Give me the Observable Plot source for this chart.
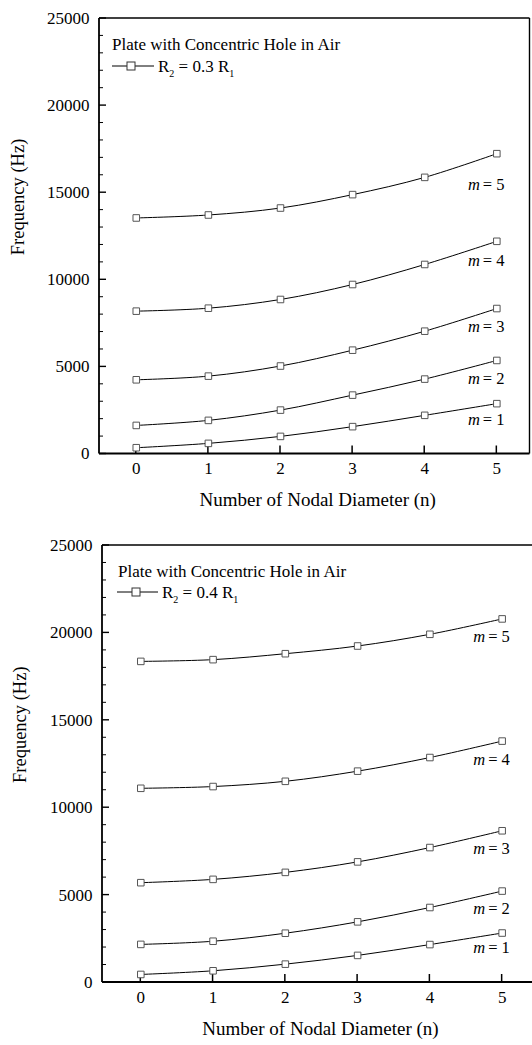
<!DOCTYPE html>
<html>
<head>
<meta charset="utf-8">
<script src="https://cdn.jsdelivr.net/npm/d3@7"></script>
<script src="https://cdn.jsdelivr.net/npm/@observablehq/plot@0.6"></script>
<style>
  html, body { margin: 0; padding: 0; background: #fff; }
  #charts > div { display: block; line-height: 0; }
  svg { display: block; }
</style>
</head>
<body>
<div id="charts"></div>
<script>
// ---------- data ----------
const nodalDiameters = [0, 1, 2, 3, 4, 5];
const modes = [1, 2, 3, 4, 5];
const yMajorTicks = [0, 5000, 10000, 15000, 20000, 25000];
const yMinorTicks = d3.range(0, 25001, 1000).filter(v => v % 5000 !== 0);

const panelTitle = "Plate with Concentric Hole in Air";
const xTitleMain = "Number of Nodal Diameter (";
const xTitleVar = "n";
const yTitle = "Frequency (Hz)";

// Panel A: R2 = 0.3 R1
const ratioA = "0.3";
const freqA_m1 = [360, 610, 1010, 1570, 2220, 2890];
const freqA_m2 = [1640, 1930, 2520, 3380, 4300, 5370];
const freqA_m3 = [4260, 4470, 5050, 5960, 7050, 8350];
const freqA_m4 = [8200, 8370, 8870, 9730, 10880, 12210];
const freqA_m5 = [13550, 13720, 14120, 14890, 15880, 17240];
const labelYA = [1990, 4320, 7280, 11120, 15480];

// Panel B: R2 = 0.4 R1
const ratioB = "0.4";
const freqB_m1 = [460, 670, 1050, 1550, 2170, 2830];
const freqB_m2 = [2180, 2360, 2820, 3470, 4290, 5230];
const freqB_m3 = [5710, 5900, 6300, 6900, 7720, 8680];
const freqB_m4 = [11110, 11210, 11510, 12090, 12870, 13810];
const freqB_m5 = [18370, 18470, 18810, 19250, 19920, 20800];
const labelYB = [1970, 4240, 7680, 12760, 19790];

function rows(series) {
  return series.flatMap((vals, k) => vals.map((f, i) => ({ m: modes[k], n: nodalDiameters[i], f })));
}

const FONT = "'Liberation Serif', 'Times New Roman', Times, serif";
const NS = "http://www.w3.org/2000/svg";

function legendMark(ratio, cfg) {
  return (index, scales, values, dims) => {
    const g = d3.create("svg:g").attr("font-family", FONT).attr("fill", "black").attr("text-anchor", "start");
    const L = dims.marginLeft, T = dims.marginTop;
    g.append("text")
      .attr("x", L + cfg.textX).attr("y", T + cfg.row1).attr("dy", "0.33em")
      .attr("font-size", 17).text(panelTitle);
    const yy = T + cfg.row2;
    g.append("line").attr("x1", L + cfg.lineX1).attr("x2", L + cfg.lineX2)
      .attr("y1", yy).attr("y2", yy).attr("stroke", "black").attr("stroke-width", 1);
    g.append("rect").attr("x", L + cfg.sqX - 4).attr("y", yy - 4).attr("width", 8).attr("height", 8)
      .attr("fill", "white").attr("stroke", "#333").attr("stroke-width", 1);
    const t = g.append("text").attr("x", L + cfg.lineX2 + 4).attr("y", yy).attr("dy", "0.33em").attr("font-size", 17);
    t.append("tspan").text("R");
    t.append("tspan").attr("font-size", 10).attr("dy", 5).text("2");
    t.append("tspan").attr("dy", -5).text(" = " + ratio + " R");
    t.append("tspan").attr("font-size", 10).attr("dy", 5).text("1");
    return g.node();
  };
}

// axis frame and inward ticks, positioned through the plot's scales
function axesMark(cfg) {
  return (index, scales, values, dims) => {
    const { x, y } = scales;
    const g = d3.create("svg:g").attr("fill", "none").attr("stroke", "black");
    const L = dims.marginLeft, T = dims.marginTop;
    const R = dims.width - dims.marginRight, B = dims.height - dims.marginBottom;
    const line = (x1, y1, x2, y2, w) =>
      g.append("line").attr("x1", x1).attr("x2", x2).attr("y1", y1).attr("y2", y2).attr("stroke-width", w);
    line(L, T, L, B, 1.8);
    line(L, B, R, B, 1.8);
    line(L, T, R, T, 1.4);
    if (cfg.rightBorder) line(R, T, R, B, 1.4);
    for (const v of yMinorTicks) line(L, y(v), L + 4, y(v), 1);
    for (const v of yMajorTicks) line(L, y(v), L + 7, y(v), 1.4);
    for (const v of nodalDiameters) line(x(v), B, x(v), B - 8, 1.5);
    return g.node();
  };
}

function makePanel(cfg) {
  const data = rows(cfg.series);
  const lastN = nodalDiameters[nodalDiameters.length - 1];
  const marks = [
    axesMark(cfg),
    Plot.text(yMajorTicks, { frameAnchor: "left", y: d => d, text: d => String(d), textAnchor: "end", dx: -10, fontSize: 17, ariaLabel: "ytick-labels" }),
    Plot.text(nodalDiameters, { x: d => d, frameAnchor: "bottom", dy: 20, text: d => String(d), fontSize: 17 }),
    Plot.text([yTitle], { frameAnchor: "left", text: d => d, rotate: -90, dx: cfg.yTitleDx, dy: 19, fontSize: 18.5, ariaLabel: "y-title" }),
    Plot.text([xTitleMain + xTitleVar + ")"], { frameAnchor: "bottom", text: d => d, dx: 3, dy: 52, fontSize: 19, ariaLabel: "x-title" }),
    Plot.line(data, { x: "n", y: "f", z: "m", curve: "catmull-rom", stroke: "black", strokeWidth: 1 }),
    Plot.dot(data, { x: "n", y: "f", symbol: "square", r: 3.7, fill: "white", stroke: "#555", strokeWidth: 1 }),
    Plot.text(modes, { x: () => lastN, y: (d, i) => cfg.labelY[i], text: () => "m", fontStyle: "italic", textAnchor: "end", dx: -17, fontSize: 16.5 }),
    Plot.text(modes, { x: () => lastN, y: (d, i) => cfg.labelY[i], text: d => "= " + d, textAnchor: "start", dx: -14, fontSize: 16.5 }),
    legendMark(cfg.ratio, cfg.legend)
  ];
  return Plot.plot({
    width: 532,
    height: cfg.height,
    marginLeft: cfg.marginLeft,
    marginRight: cfg.marginRight,
    marginTop: cfg.marginTop,
    marginBottom: cfg.marginBottom,
    style: { fontFamily: FONT, fontSize: "16px", color: "black", background: "white" },
    x: { domain: cfg.xDomain, axis: null },
    y: { domain: [0, 25000], axis: null },
    marks
  });
}

function italicizeXTitle(svg) {
  svg.querySelectorAll(`g[aria-label="x-title"] text`).forEach(t => {
    t.textContent = "";
    const a = document.createElementNS(NS, "tspan"); a.textContent = xTitleMain;
    const b = document.createElementNS(NS, "tspan"); b.textContent = xTitleVar; b.setAttribute("font-style", "italic");
    const c = document.createElementNS(NS, "tspan"); c.textContent = ")";
    t.append(a, b, c);
  });
}

function stretch(svg, label, factor) {
  svg.querySelectorAll(`g[aria-label="${label}"] text`).forEach(t => {
    const w = t.getComputedTextLength();
    t.setAttribute("textLength", (w * factor).toFixed(1));
    t.setAttribute("lengthAdjust", "spacingAndGlyphs");
  });
}

const root = document.getElementById("charts");
const panels = [
  {
    series: [freqA_m1, freqA_m2, freqA_m3, freqA_m4, freqA_m5], labelY: labelYA, ratio: ratioA,
    height: 522, marginTop: 18, marginBottom: 68.5, marginLeft: 99, marginRight: 2.5,
    xDomain: [-0.51, 5.46], rightBorder: true, yTitleDx: -81,
    legend: { textX: 13, row1: 26, row2: 48, lineX1: 13, lineX2: 55, sqX: 32 }
  },
  {
    series: [freqB_m1, freqB_m2, freqB_m3, freqB_m4, freqB_m5], labelY: labelYB, ratio: ratioB,
    height: 523, marginTop: 23, marginBottom: 63, marginLeft: 102, marginRight: 0,
    xDomain: [-0.53, 5.42], rightBorder: false, yTitleDx: -82,
    legend: { textX: 16, row1: 26, row2: 47, lineX1: 15, lineX2: 56, sqX: 34 }
  }
];
for (const cfg of panels) {
  const div = document.createElement("div");
  const svg = makePanel(cfg);
  div.appendChild(svg);
  root.appendChild(div);
  italicizeXTitle(svg);
  stretch(svg, "ytick-labels", 1.1);
  stretch(svg, "y-title", 1.25);
  stretch(svg, "x-title", 1.15);
}
</script>
</body>
</html>
